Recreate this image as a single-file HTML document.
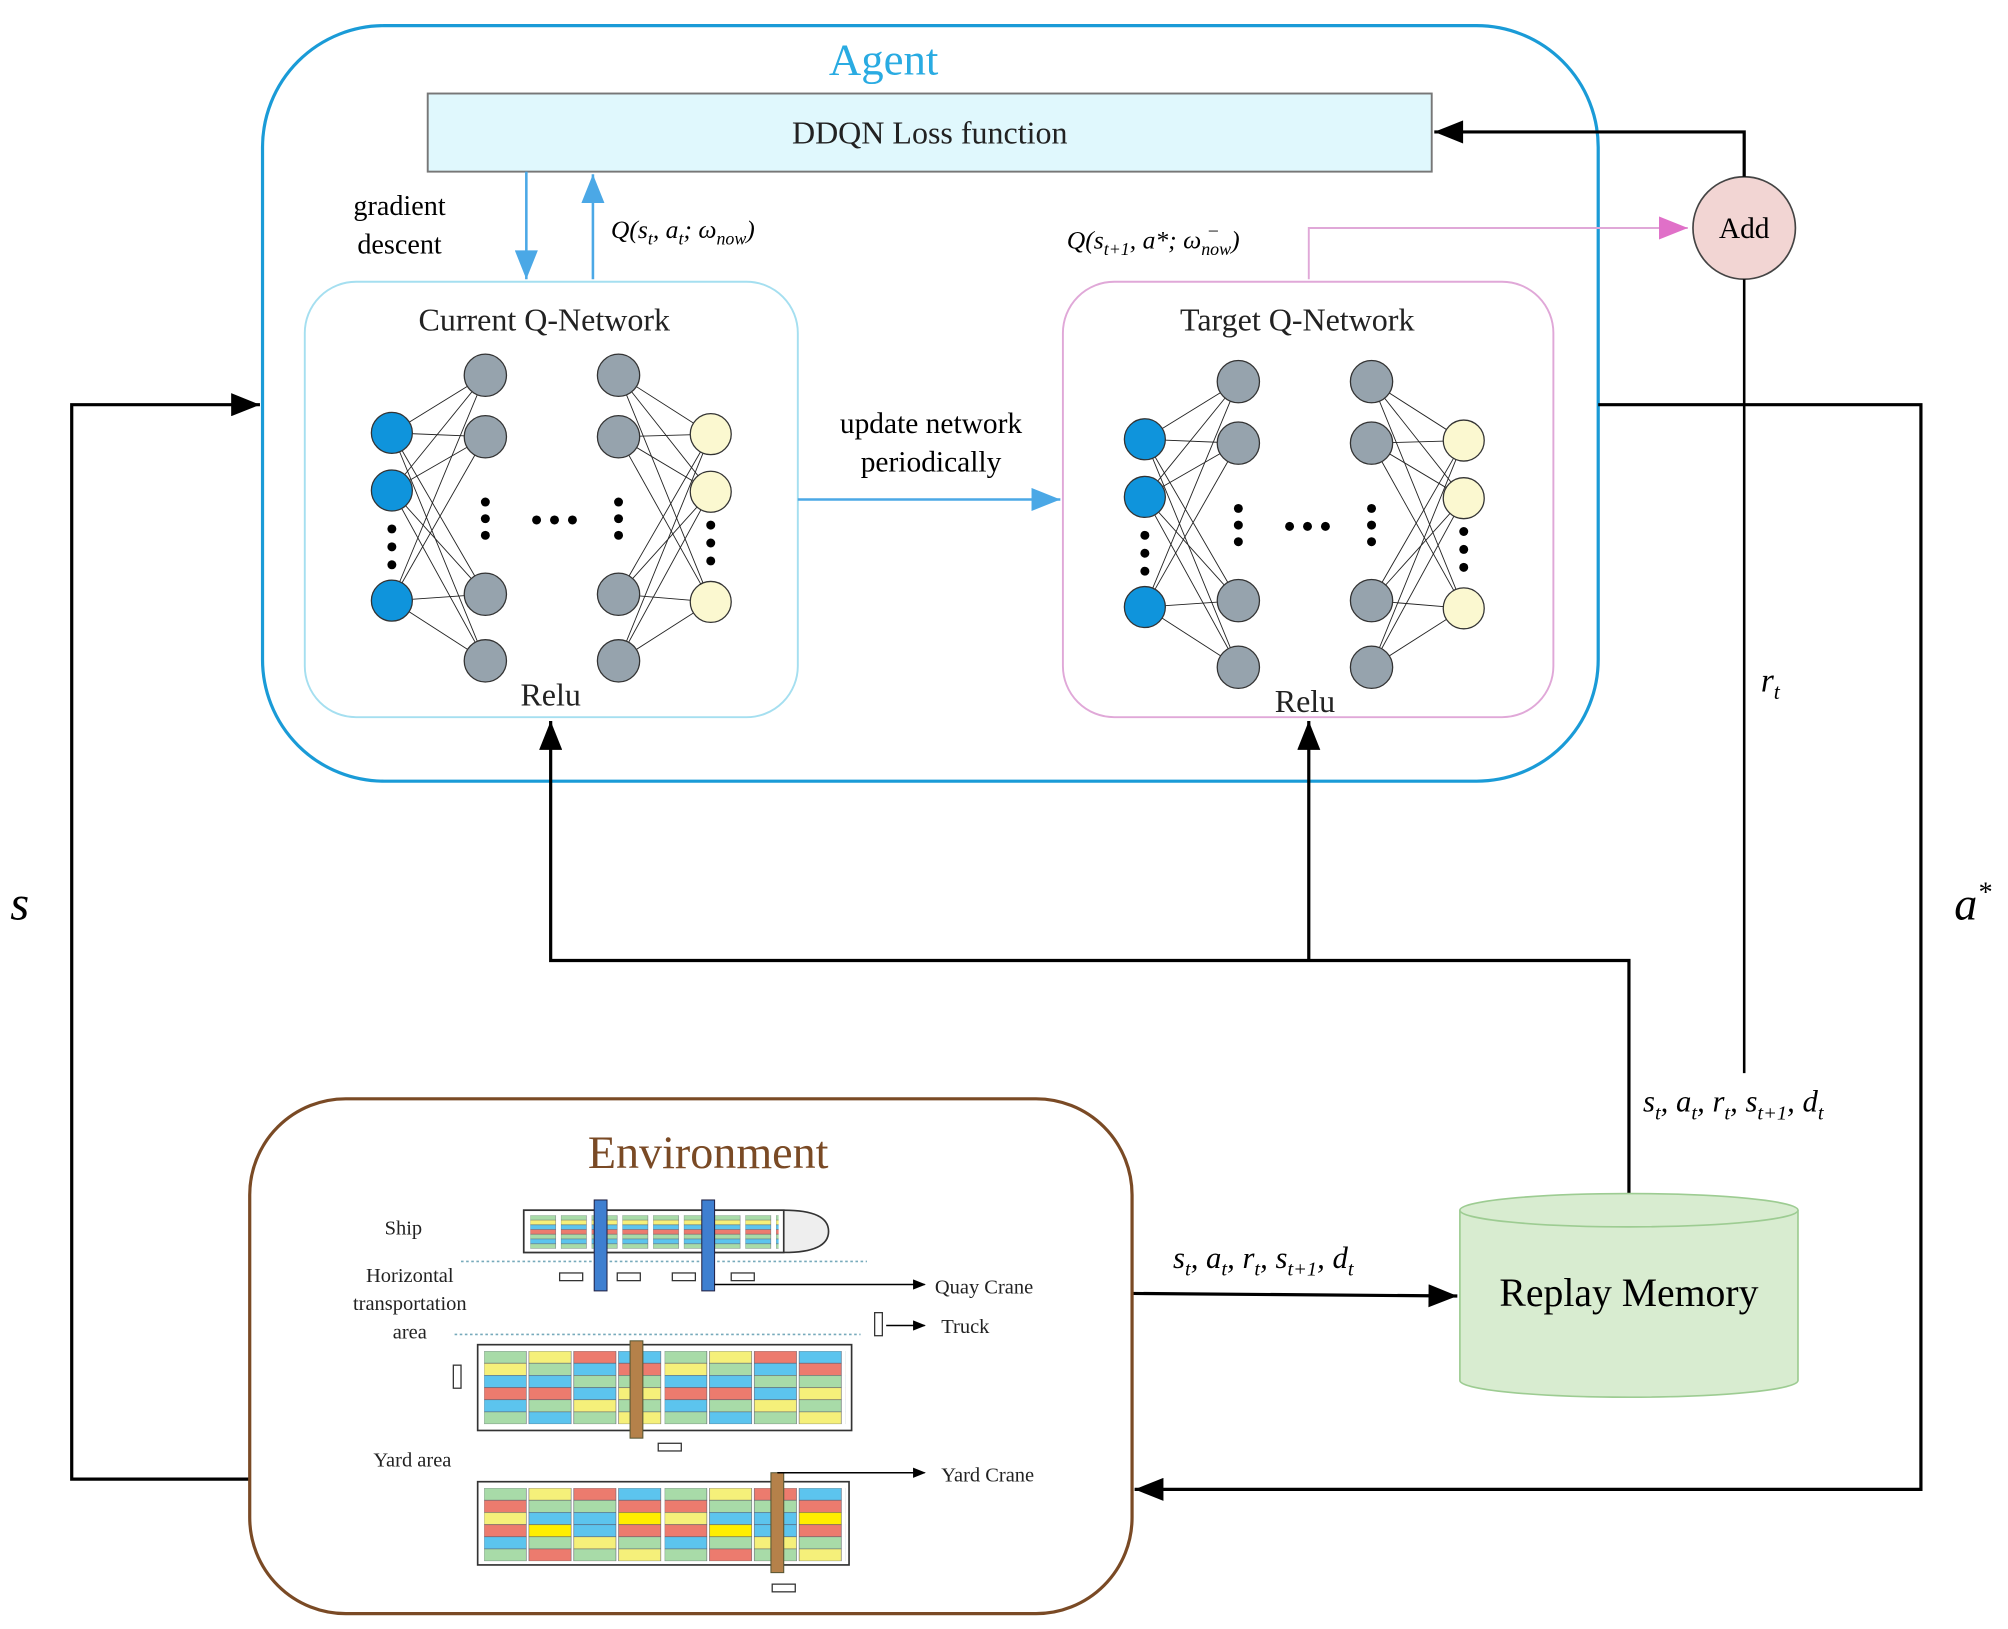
<!DOCTYPE html>
<html><head><meta charset="utf-8"><style>html,body{margin:0;padding:0;background:#fff}svg{display:block}</style></head>
<body>
<svg width="2008" height="1629" viewBox="0 0 1568 1272" xmlns="http://www.w3.org/2000/svg" font-family="Liberation Serif, serif">
<defs>
<marker id="ab" markerWidth="10" markerHeight="8" refX="9" refY="4" orient="auto" markerUnits="userSpaceOnUse"><path d="M0,0 L10,4 L0,8 z" fill="#000"/></marker>
<marker id="abk" viewBox="0 0 20 16" markerWidth="24" markerHeight="18" refX="20" refY="8" orient="auto" markerUnits="userSpaceOnUse"><path d="M0,0 L20,8 L0,16 z" fill="#000"/></marker>
<marker id="abl" viewBox="0 0 20 16" markerWidth="24" markerHeight="18" refX="20" refY="8" orient="auto" markerUnits="userSpaceOnUse"><path d="M0,0 L20,8 L0,16 z" fill="#4ba8e6"/></marker>
<marker id="apk" viewBox="0 0 20 16" markerWidth="24" markerHeight="18" refX="20" refY="8" orient="auto" markerUnits="userSpaceOnUse"><path d="M0,0 L20,8 L0,16 z" fill="#e070c8"/></marker>
<pattern id="cont" x="378" y="1055" width="141" height="57" patternUnits="userSpaceOnUse">
<g stroke="#556" stroke-width="0.4">
<rect x="0" y="0" width="33" height="9.5" fill="#a8dba8"/><rect x="0" y="9.5" width="33" height="9.5" fill="#f5f07a"/><rect x="0" y="19" width="33" height="9.5" fill="#5cc4ee"/><rect x="0" y="28.5" width="33" height="9.5" fill="#ec7b6e"/><rect x="0" y="38" width="33" height="9.5" fill="#5cc4ee"/><rect x="0" y="47.5" width="33" height="9.5" fill="#a8dba8"/>
<rect x="35" y="0" width="33" height="9.5" fill="#f5f07a"/><rect x="35" y="9.5" width="33" height="9.5" fill="#a8dba8"/><rect x="35" y="19" width="33" height="9.5" fill="#5cc4ee"/><rect x="35" y="28.5" width="33" height="9.5" fill="#ec7b6e"/><rect x="35" y="38" width="33" height="9.5" fill="#a8dba8"/><rect x="35" y="47.5" width="33" height="9.5" fill="#5cc4ee"/>
<rect x="70" y="0" width="33" height="9.5" fill="#ec7b6e"/><rect x="70" y="9.5" width="33" height="9.5" fill="#5cc4ee"/><rect x="70" y="19" width="33" height="9.5" fill="#a8dba8"/><rect x="70" y="28.5" width="33" height="9.5" fill="#5cc4ee"/><rect x="70" y="38" width="33" height="9.5" fill="#f5f07a"/><rect x="70" y="47.5" width="33" height="9.5" fill="#a8dba8"/>
<rect x="105" y="0" width="33" height="9.5" fill="#5cc4ee"/><rect x="105" y="9.5" width="33" height="9.5" fill="#ec7b6e"/><rect x="105" y="19" width="33" height="9.5" fill="#a8dba8"/><rect x="105" y="28.5" width="33" height="9.5" fill="#f5f07a"/><rect x="105" y="38" width="33" height="9.5" fill="#a8dba8"/><rect x="105" y="47.5" width="33" height="9.5" fill="#f5f07a"/>
</g></pattern>
<pattern id="cont2" x="378" y="1162" width="141" height="57" patternUnits="userSpaceOnUse">
<g stroke="#556" stroke-width="0.4">
<rect x="0" y="0" width="33" height="9.5" fill="#a8dba8"/><rect x="0" y="9.5" width="33" height="9.5" fill="#ec7b6e"/><rect x="0" y="19" width="33" height="9.5" fill="#f5f07a"/><rect x="0" y="28.5" width="33" height="9.5" fill="#ec7b6e"/><rect x="0" y="38" width="33" height="9.5" fill="#5cc4ee"/><rect x="0" y="47.5" width="33" height="9.5" fill="#a8dba8"/>
<rect x="35" y="0" width="33" height="9.5" fill="#f5f07a"/><rect x="35" y="9.5" width="33" height="9.5" fill="#a8dba8"/><rect x="35" y="19" width="33" height="9.5" fill="#5cc4ee"/><rect x="35" y="28.5" width="33" height="9.5" fill="#ffee00"/><rect x="35" y="38" width="33" height="9.5" fill="#a8dba8"/><rect x="35" y="47.5" width="33" height="9.5" fill="#ec7b6e"/>
<rect x="70" y="0" width="33" height="9.5" fill="#ec7b6e"/><rect x="70" y="9.5" width="33" height="9.5" fill="#a8dba8"/><rect x="70" y="19" width="33" height="9.5" fill="#5cc4ee"/><rect x="70" y="28.5" width="33" height="9.5" fill="#5cc4ee"/><rect x="70" y="38" width="33" height="9.5" fill="#f5f07a"/><rect x="70" y="47.5" width="33" height="9.5" fill="#a8dba8"/>
<rect x="105" y="0" width="33" height="9.5" fill="#5cc4ee"/><rect x="105" y="9.5" width="33" height="9.5" fill="#ec7b6e"/><rect x="105" y="19" width="33" height="9.5" fill="#ffee00"/><rect x="105" y="28.5" width="33" height="9.5" fill="#ec7b6e"/><rect x="105" y="38" width="33" height="9.5" fill="#a8dba8"/><rect x="105" y="47.5" width="33" height="9.5" fill="#f5f07a"/>
</g></pattern>
<pattern id="shipc" x="414" y="949" width="24" height="26" patternUnits="userSpaceOnUse">
<g stroke="#556" stroke-width="0.3">
<rect x="0" y="0" width="20" height="3.7" fill="#a8dba8"/><rect x="0" y="3.7" width="20" height="3.7" fill="#f5f07a"/><rect x="0" y="7.4" width="20" height="3.7" fill="#5cc4ee"/><rect x="0" y="11.1" width="20" height="3.7" fill="#ec7b6e"/><rect x="0" y="14.8" width="20" height="3.7" fill="#a8dba8"/><rect x="0" y="18.5" width="20" height="3.7" fill="#5cc4ee"/><rect x="0" y="22.2" width="20" height="3.7" fill="#a8dba8"/>
</g></pattern>
<g id="net">
<g stroke="#222" stroke-width="0.7">
<line x1="306" y1="338" x2="379" y2="293"/><line x1="306" y1="338" x2="379" y2="341"/><line x1="306" y1="338" x2="379" y2="464"/><line x1="306" y1="338" x2="379" y2="516"/>
<line x1="306" y1="383" x2="379" y2="293"/><line x1="306" y1="383" x2="379" y2="341"/><line x1="306" y1="383" x2="379" y2="464"/><line x1="306" y1="383" x2="379" y2="516"/>
<line x1="306" y1="469" x2="379" y2="293"/><line x1="306" y1="469" x2="379" y2="341"/><line x1="306" y1="469" x2="379" y2="464"/><line x1="306" y1="469" x2="379" y2="516"/>
<line x1="483" y1="293" x2="555" y2="339"/><line x1="483" y1="293" x2="555" y2="384"/><line x1="483" y1="293" x2="555" y2="470"/>
<line x1="483" y1="341" x2="555" y2="339"/><line x1="483" y1="341" x2="555" y2="384"/><line x1="483" y1="341" x2="555" y2="470"/>
<line x1="483" y1="464" x2="555" y2="339"/><line x1="483" y1="464" x2="555" y2="384"/><line x1="483" y1="464" x2="555" y2="470"/>
<line x1="483" y1="516" x2="555" y2="339"/><line x1="483" y1="516" x2="555" y2="384"/><line x1="483" y1="516" x2="555" y2="470"/>
</g>
<g stroke="#333" stroke-width="1">
<circle cx="306" cy="338" r="16" fill="#0f94dc"/><circle cx="306" cy="383" r="16" fill="#0f94dc"/><circle cx="306" cy="469" r="16" fill="#0f94dc"/>
<circle cx="379" cy="293" r="16.5" fill="#96a3ad"/><circle cx="379" cy="341" r="16.5" fill="#96a3ad"/><circle cx="379" cy="464" r="16.5" fill="#96a3ad"/><circle cx="379" cy="516" r="16.5" fill="#96a3ad"/>
<circle cx="483" cy="293" r="16.5" fill="#96a3ad"/><circle cx="483" cy="341" r="16.5" fill="#96a3ad"/><circle cx="483" cy="464" r="16.5" fill="#96a3ad"/><circle cx="483" cy="516" r="16.5" fill="#96a3ad"/>
<circle cx="555" cy="339" r="16" fill="#fbf8d0"/><circle cx="555" cy="384" r="16" fill="#fbf8d0"/><circle cx="555" cy="470" r="16" fill="#fbf8d0"/>
</g>
<g fill="#000">
<circle cx="306" cy="413" r="3.5"/><circle cx="306" cy="427" r="3.5"/><circle cx="306" cy="441" r="3.5"/>
<circle cx="379" cy="392" r="3.5"/><circle cx="379" cy="405" r="3.5"/><circle cx="379" cy="418" r="3.5"/>
<circle cx="483" cy="392" r="3.5"/><circle cx="483" cy="405" r="3.5"/><circle cx="483" cy="418" r="3.5"/>
<circle cx="419" cy="406" r="3.5"/><circle cx="433" cy="406" r="3.5"/><circle cx="447" cy="406" r="3.5"/>
<circle cx="555" cy="410" r="3.5"/><circle cx="555" cy="424" r="3.5"/><circle cx="555" cy="438" r="3.5"/>
</g>
</g>
</defs>

<rect x="205" y="20" width="1043" height="590" rx="95" fill="none" stroke="#1a9bd7" stroke-width="2.5"/>
<text x="690" y="58" font-size="35" fill="#29abe2" text-anchor="middle">Agent</text>
<rect x="334" y="73" width="784" height="61" fill="#e0f8fd" stroke="#777" stroke-width="1.5"/>
<text x="726" y="112" font-size="25" text-anchor="middle" fill="#222">DDQN Loss function</text>
<text x="312" y="168" font-size="22" text-anchor="middle">gradient</text>
<text x="312" y="198" font-size="22" text-anchor="middle">descent</text>
<line x1="411" y1="134" x2="411" y2="218" stroke="#4ba8e6" stroke-width="2" marker-end="url(#abl)"/>
<line x1="463" y1="218" x2="463" y2="136" stroke="#4ba8e6" stroke-width="2" marker-end="url(#abl)"/>
<text x="477" y="186" font-size="20" font-style="italic">Q(s<tspan font-size="14" dy="5">t</tspan><tspan dy="-5">, a</tspan><tspan font-size="14" dy="5">t</tspan><tspan dy="-5">; ω</tspan><tspan font-size="14" dy="5">now</tspan><tspan dy="-5">)</tspan></text>

<rect x="238" y="220" width="385" height="340" rx="40" fill="none" stroke="#a5dff0" stroke-width="1.5"/>
<text x="425" y="258" font-size="25" text-anchor="middle" fill="#222">Current Q-Network</text>
<use href="#net"/>
<text x="430" y="551" font-size="25" text-anchor="middle" fill="#222">Relu</text>

<text x="727" y="338" font-size="23" text-anchor="middle">update network</text>
<text x="727" y="368" font-size="23" text-anchor="middle">periodically</text>
<line x1="623" y1="390" x2="828" y2="390" stroke="#4ba8e6" stroke-width="2" marker-end="url(#abl)"/>

<rect x="830" y="220" width="383" height="340" rx="40" fill="none" stroke="#e0a8d8" stroke-width="1.5"/>
<text x="1013" y="258" font-size="25" text-anchor="middle" fill="#222">Target Q-Network</text>
<use href="#net" transform="translate(588,5)"/>
<text x="1019" y="556" font-size="25" text-anchor="middle" fill="#222">Relu</text>

<polyline points="1022,218 1022,178 1318,178" fill="none" stroke="#e0a8d8" stroke-width="1.5" marker-end="url(#apk)"/>
<text x="833" y="194" font-size="20" font-style="italic">Q(s<tspan font-size="14" dy="5">t+1</tspan><tspan dy="-5">, a*; ω</tspan><tspan font-size="14" dy="5">now</tspan><tspan dy="-5">)</tspan></text>
<text x="944" y="184" font-size="14">–</text>

<ellipse cx="1362" cy="178" rx="40" ry="40" fill="#f2d5d3" stroke="#444" stroke-width="1.3"/>
<text x="1362" y="186" font-size="23" text-anchor="middle">Add</text>
<polyline points="1362,138 1362,103 1120,103" fill="none" stroke="#000" stroke-width="2.5" marker-end="url(#abk)"/>
<line x1="1362" y1="218" x2="1362" y2="838" stroke="#000" stroke-width="2"/>
<text x="1375" y="540" font-size="26" font-style="italic">r<tspan font-size="17" dy="6">t</tspan></text>

<polyline points="1248,316 1500,316 1500,1163 886,1163" fill="none" stroke="#000" stroke-width="2.5" marker-end="url(#abk)"/>
<text x="1526" y="718" font-size="36" font-style="italic">a<tspan font-size="22" dy="-14">*</tspan></text>
<polyline points="195,1155 56,1155 56,316 203,316" fill="none" stroke="#000" stroke-width="2.5" marker-end="url(#abk)"/>
<text x="8" y="718" font-size="38" font-style="italic">s</text>

<polyline points="1272,933 1272,750 430,750 430,563" fill="none" stroke="#000" stroke-width="2.5" marker-end="url(#abk)"/>
<line x1="1022" y1="750" x2="1022" y2="563" stroke="#000" stroke-width="2.5" marker-end="url(#abk)"/>
<text x="1283" y="868" font-size="24" font-style="italic">s<tspan font-size="16" dy="6">t</tspan><tspan dy="-6">, a</tspan><tspan font-size="16" dy="6">t</tspan><tspan dy="-6">, r</tspan><tspan font-size="16" dy="6">t</tspan><tspan dy="-6">, s</tspan><tspan font-size="16" dy="6">t+1</tspan><tspan dy="-6">, d</tspan><tspan font-size="16" dy="6">t</tspan></text>

<path d="M1140,945 L1140,1078 A132,13 0 0 0 1404,1078 L1404,945" fill="#d8ecd0" stroke="#9dcc92" stroke-width="1.3"/>
<ellipse cx="1272" cy="945" rx="132" ry="13" fill="#d8ecd0" stroke="#9dcc92" stroke-width="1.3"/>
<text x="1272" y="1020" font-size="31" text-anchor="middle">Replay Memory</text>
<line x1="884" y1="1010" x2="1138" y2="1012" stroke="#000" stroke-width="2.5" marker-end="url(#abk)"/>
<text x="916" y="990" font-size="24" font-style="italic">s<tspan font-size="16" dy="6">t</tspan><tspan dy="-6">, a</tspan><tspan font-size="16" dy="6">t</tspan><tspan dy="-6">, r</tspan><tspan font-size="16" dy="6">t</tspan><tspan dy="-6">, s</tspan><tspan font-size="16" dy="6">t+1</tspan><tspan dy="-6">, d</tspan><tspan font-size="16" dy="6">t</tspan></text>

<rect x="195" y="858" width="689" height="402" rx="75" fill="none" stroke="#7a4a25" stroke-width="2.5"/>
<text x="553" y="912" font-size="36" text-anchor="middle" fill="#7a4a25">Environment</text>
<g font-size="16" text-anchor="middle" fill="#222">
<text x="315" y="964">Ship</text>
<text x="320" y="1001">Horizontal</text>
<text x="320" y="1023">transportation</text>
<text x="320" y="1045">area</text>
<text x="322" y="1145">Yard area</text>
</g>
<g font-size="16" fill="#222">
<text x="730" y="1010">Quay Crane</text>
<text x="735" y="1041">Truck</text>
<text x="735" y="1157">Yard Crane</text>
</g>
<path d="M409,945 L612,945 Q647,945 647,961.5 Q647,978 612,978 L409,978 Z" fill="#eee" stroke="#333" stroke-width="1.3"/>
<rect x="409" y="945" width="203" height="33" fill="#fff" stroke="#333" stroke-width="1.3"/>
<rect x="414" y="949" width="194" height="26" fill="url(#shipc)"/>
<line x1="360" y1="985" x2="677" y2="985" stroke="#7ab" stroke-width="1.2" stroke-dasharray="2,2"/>
<line x1="355" y1="1042" x2="672" y2="1042" stroke="#7ab" stroke-width="1.2" stroke-dasharray="2,2"/>
<g fill="#fff" stroke="#333" stroke-width="1">
<rect x="437" y="994" width="18" height="6"/><rect x="482" y="994" width="18" height="6"/><rect x="525" y="994" width="18" height="6"/><rect x="571" y="994" width="18" height="6"/>
<rect x="683" y="1025" width="6" height="18"/><rect x="354" y="1066" width="6" height="18"/><rect x="514" y="1127" width="18" height="6"/><rect x="603" y="1237" width="18" height="6"/>
</g>
<rect x="464" y="937" width="10" height="71" fill="#3f7fd0" stroke="#224" stroke-width="0.8"/>
<rect x="548" y="937" width="10" height="71" fill="#3f7fd0" stroke="#224" stroke-width="0.8"/>
<polyline points="558,1003 722,1003" stroke="#000" stroke-width="1.2" fill="none" marker-end="url(#ab)"/>
<line x1="692" y1="1035" x2="722" y2="1035" stroke="#000" stroke-width="1.2" marker-end="url(#ab)"/>
<rect x="373" y="1050" width="292" height="67" fill="#fff" stroke="#333" stroke-width="1.3"/>
<rect x="378" y="1055" width="282" height="57" fill="url(#cont)"/>
<rect x="492" y="1047" width="10" height="76" fill="#b5814a" stroke="#553" stroke-width="0.8"/>
<rect x="373" y="1157" width="290" height="65" fill="#fff" stroke="#333" stroke-width="1.3"/>
<rect x="378" y="1162" width="282" height="57" fill="url(#cont2)"/>
<rect x="602" y="1150" width="10" height="78" fill="#b5814a" stroke="#553" stroke-width="0.8"/>
<line x1="607" y1="1150" x2="722" y2="1150" stroke="#000" stroke-width="1.2" marker-end="url(#ab)"/>
</svg>
</body></html>
